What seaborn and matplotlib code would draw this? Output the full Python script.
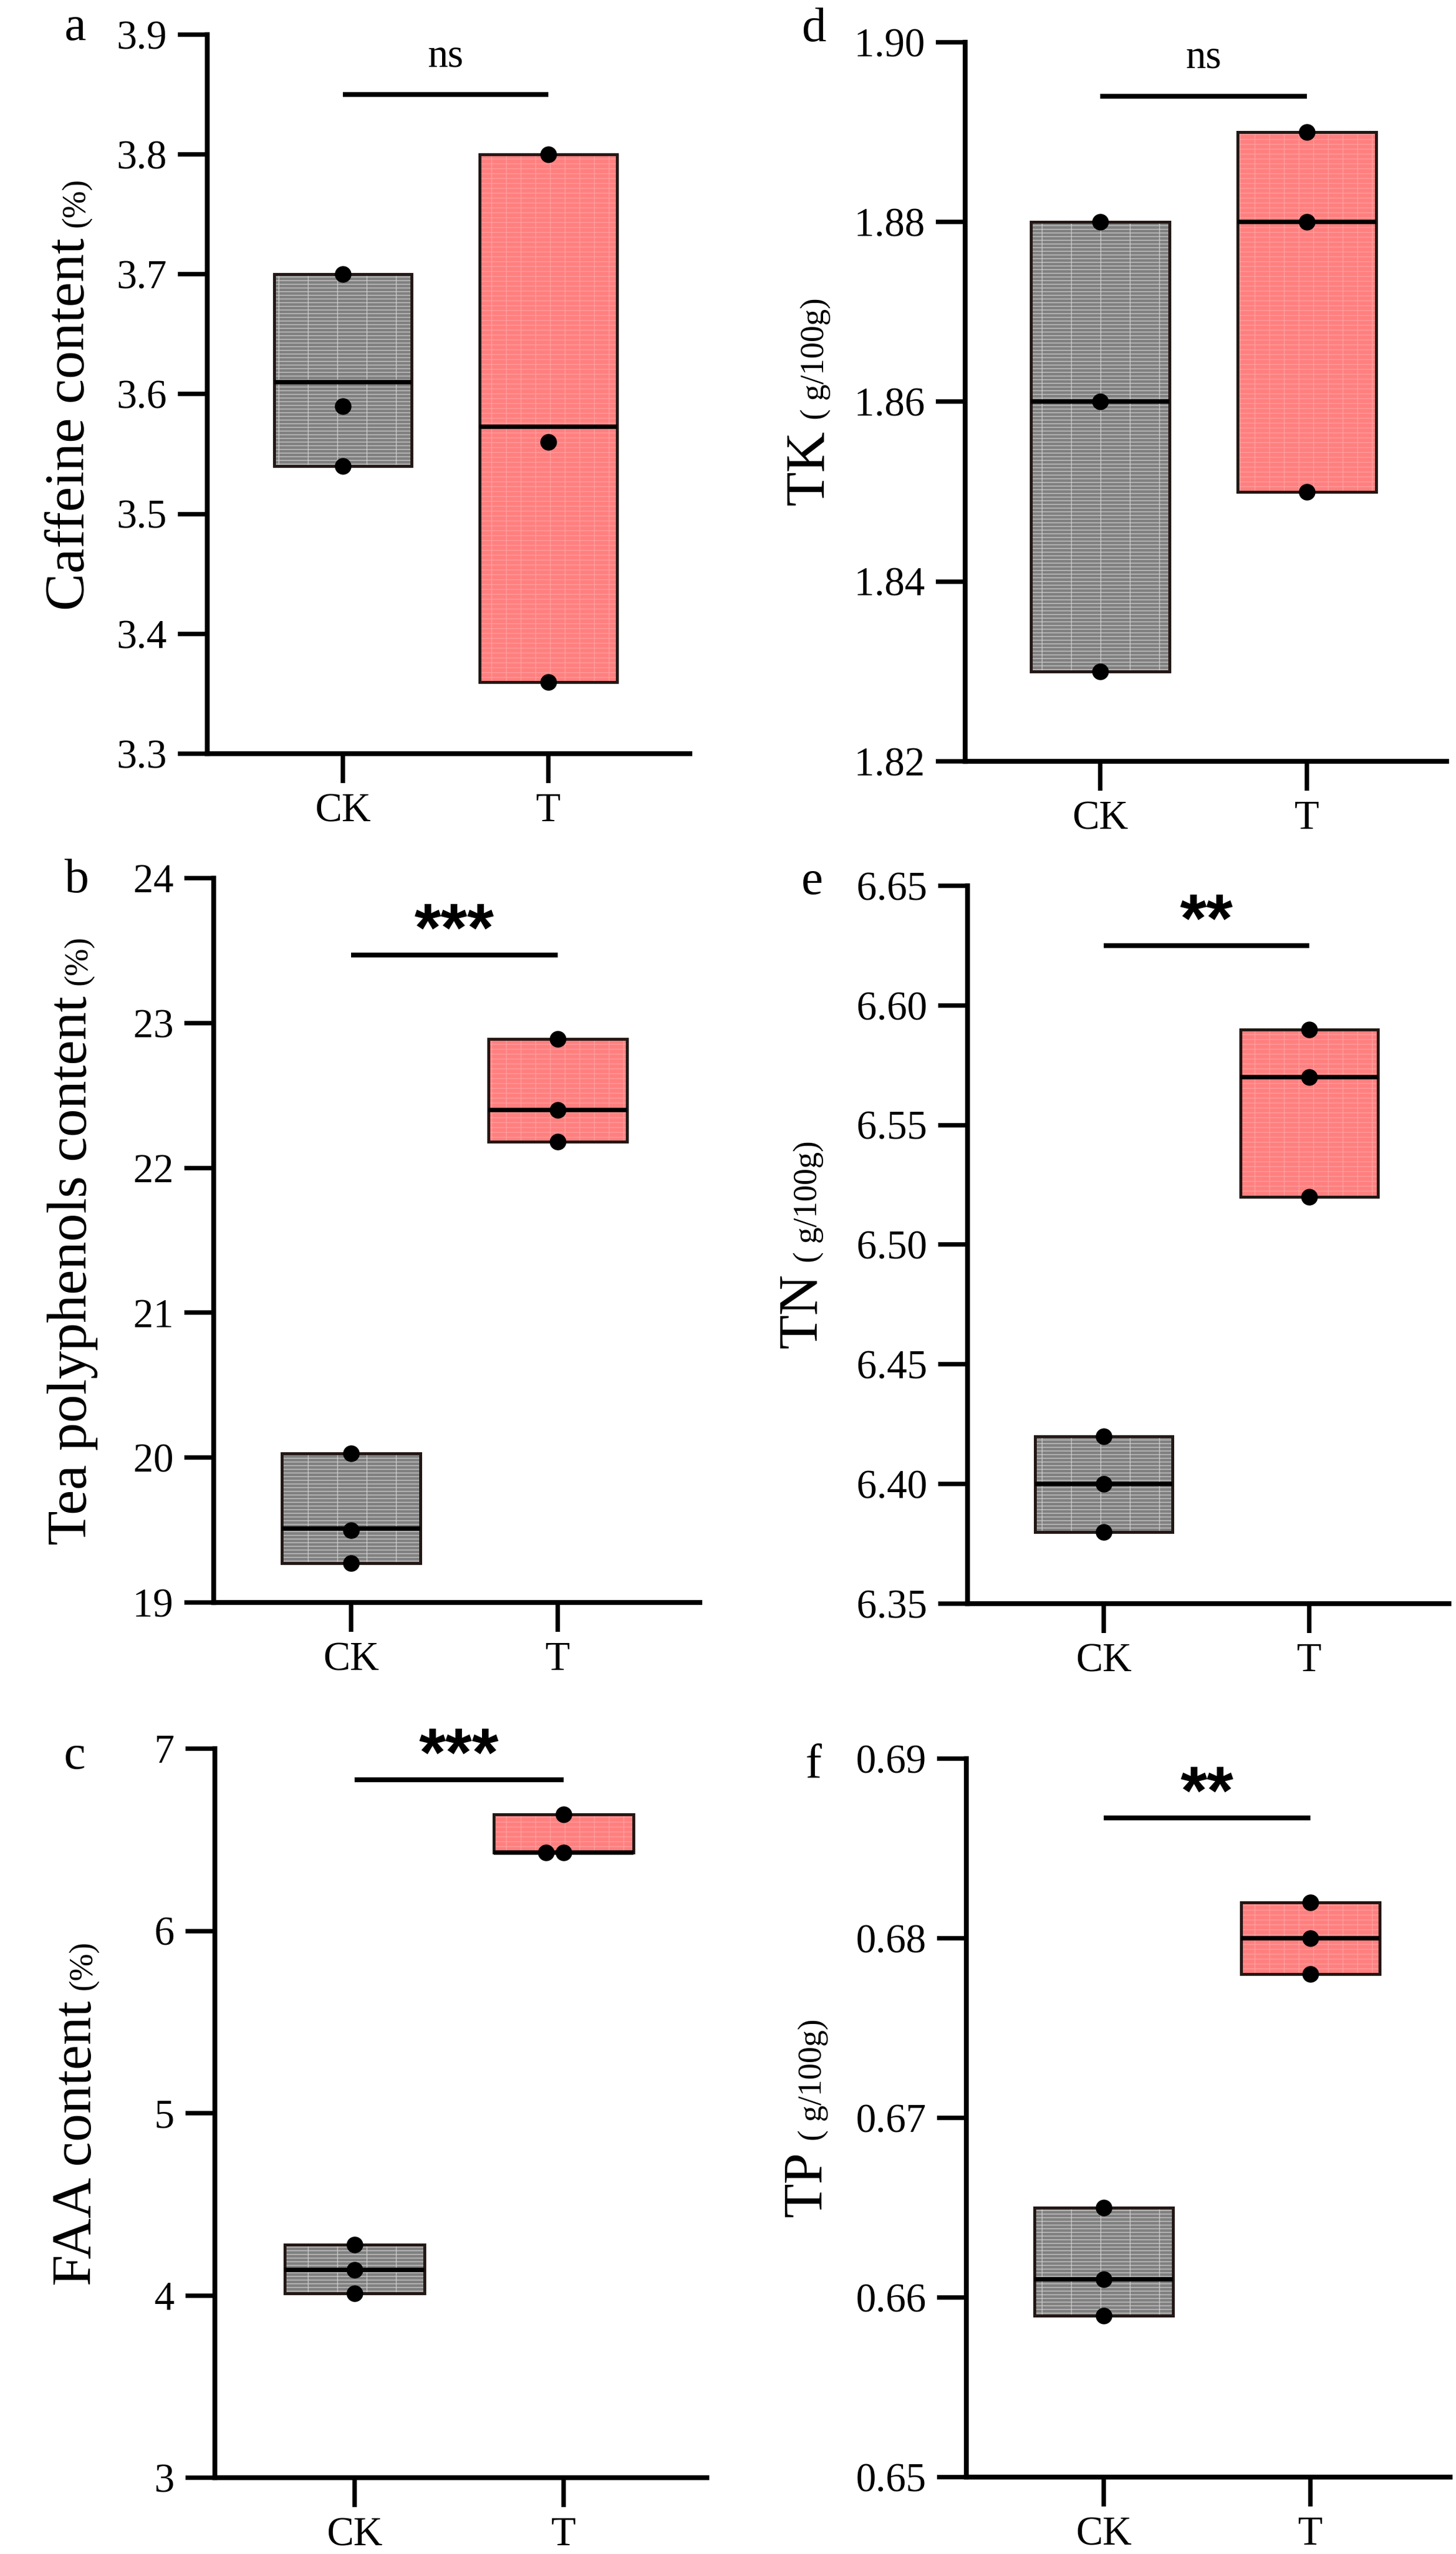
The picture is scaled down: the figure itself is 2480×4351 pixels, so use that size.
import numpy as np
import pandas as pd
import matplotlib
matplotlib.use('Agg')
import matplotlib.pyplot as plt
import seaborn as sns

# Data (three replicates per group)
groups = ['CK', 'T']

caffeine_ck = [3.70, 3.59, 3.54]
caffeine_t = [3.80, 3.56, 3.36]
caffeine_mid = [3.61, 3.573]

polyphenol_ck = [20.03, 19.50, 19.27]
polyphenol_t = [22.89, 22.40, 22.18]
polyphenol_mid = [19.51, 22.40]

faa_ck = [4.28, 4.14, 4.01]
faa_t = [6.64, 6.43, 6.43]
faa_mid = [4.14, 6.43]

tk_ck = [1.88, 1.86, 1.83]
tk_t = [1.89, 1.88, 1.85]
tk_mid = [1.86, 1.88]

tn_ck = [6.42, 6.40, 6.38]
tn_t = [6.59, 6.57, 6.52]
tn_mid = [6.40, 6.57]

tp_ck = [0.665, 0.661, 0.659]
tp_t = [0.682, 0.680, 0.678]
tp_mid = [0.661, 0.680]

# significance bars
sig_labels = ['ns', '***', '***', 'ns', '**', '**']
sig_levels = [3.85, 23.47, 6.83, 1.894, 6.625, 0.6867]

# axis labels and ticks
panel_letters = ['a', 'b', 'c', 'd', 'e', 'f']
ylab_main = ['Caffeine content', 'Tea polyphenols content', 'FAA content', 'TK', 'TN', 'TP']
ylab_unit = ['(%)', '(%)', '(%)', '( g/100g)', '( g/100g)', '( g/100g)']
yticks_a = [3.3, 3.4, 3.5, 3.6, 3.7, 3.8, 3.9]
yticks_b = [19, 20, 21, 22, 23, 24]
yticks_c = [3, 4, 5, 6, 7]
yticks_d = [1.82, 1.84, 1.86, 1.88, 1.90]
yticks_e = [6.35, 6.40, 6.45, 6.50, 6.55, 6.60, 6.65]
yticks_f = [0.65, 0.66, 0.67, 0.68, 0.69]
tick_fmt = ['{:.1f}', '{:.0f}', '{:.0f}', '{:.2f}', '{:.2f}', '{:.2f}']

panels = [
    (caffeine_ck, caffeine_t, caffeine_mid, yticks_a),
    (polyphenol_ck, polyphenol_t, polyphenol_mid, yticks_b),
    (faa_ck, faa_t, faa_mid, yticks_c),
    (tk_ck, tk_t, tk_mid, yticks_d),
    (tn_ck, tn_t, tn_mid, yticks_e),
    (tp_ck, tp_t, tp_mid, yticks_f),
]

# ---- layout (pixels of the 2480x4351 output) ----
W, H = 2480, 4351
DPI = 300
# left, right, top, bottom, CK x, T x
rects = [
    (353, 1175, 59, 1284, 584, 934),
    (364, 1192, 1496, 2730, 598, 950),
    (366, 1204, 2979, 4221, 604, 960),
    (1644, 2464, 72, 1297, 1874, 2226),
    (1648, 2468, 1509, 2732, 1880, 2230),
    (1646, 2470, 2996, 4220, 1880, 2232),
]
ylab_x = [143, 147, 155, 1403, 1391, 1399]
letter_pos = [(128, 68), (131, 1520), (127, 3013), (1387, 70), (1383, 1523), (1385, 3028)]

box_w = 0.67
gray_face = '#808080'
gray_hatch = '#c4c4c4'
red_face = '#ff7f7f'
red_hatch = '#ff9c9c'
edge_dark = '#231815'

sns.set_theme(style='ticks')
plt.rcParams['font.family'] = ['Liberation Serif', 'DejaVu Serif']
plt.rcParams['hatch.linewidth'] = 0.35
plt.rcParams['axes.unicode_minus'] = False
plt.rcParams['text.color'] = 'black'
plt.rcParams['axes.labelcolor'] = 'black'
plt.rcParams['xtick.color'] = 'black'
plt.rcParams['ytick.color'] = 'black'

fig = plt.figure(figsize=(W / DPI, H / DPI), dpi=DPI)
fig.patch.set_facecolor('white')

axes = []
for k, (ck, t, mid, yt) in enumerate(panels):
    L, R, T_, B, xck, xt = rects[k]
    ax = fig.add_axes([L / W, 1 - B / H, (R - L) / W, (B - T_) / H])
    ax.set_facecolor('none')
    axes.append(ax)

    df = pd.DataFrame({'group': ['CK'] * len(ck) + ['T'] * len(t),
                       'value': ck + t})
    rng = df.groupby('group')['value'].agg(['min', 'max']).reindex(groups)

    faces = [gray_face, red_face]
    hatch_cols = [gray_hatch, red_hatch]
    hatches = ['--------|', '------||']
    for i, g in enumerate(groups):
        lo, hi = rng.loc[g, 'min'], rng.loc[g, 'max']
        # filled, textured body
        sns.barplot(x=[g], y=[hi - lo], bottom=lo, order=groups, width=box_w,
                    color=faces[i], saturation=1, linewidth=0,
                    edgecolor=hatch_cols[i], hatch=hatches[i], errorbar=None, ax=ax)
        # dark outline
        sns.barplot(x=[g], y=[hi - lo], bottom=lo, order=groups, width=box_w,
                    color=edge_dark, fill=False, linewidth=1.2, saturation=1,
                    errorbar=None, ax=ax)

    # centre line of each box
    pos = np.arange(len(groups))
    ax.hlines(mid, pos - box_w / 2, pos + box_w / 2, color='black', lw=1.8, zorder=3)

    # replicate points
    sns.swarmplot(data=df, x='group', y='value', order=groups, color='black',
                  size=6.8, linewidth=0, ax=ax, zorder=4)

    # significance bar
    ax.plot([0, 1], [sig_levels[k]] * 2, color='black', lw=2.0,
            solid_capstyle='butt', clip_on=False)
    if sig_labels[k] == 'ns':
        ax.annotate('ns', xy=(0.5, sig_levels[k]), xytext=(0, 11.5),
                    textcoords='offset points', ha='center', va='baseline',
                    fontsize=16.5, color='black')
    else:
        ax.annotate(sig_labels[k], xy=(0.5, sig_levels[k]), xytext=(0, 1.5),
                    textcoords='offset points', ha='center', va='baseline',
                    fontsize=28, fontweight='bold', color='black',
                    family=['Liberation Sans', 'DejaVu Sans'])

    # axes styling
    ax.set_xlim((L - xck) / (xt - xck), (R - xck) / (xt - xck))
    ax.set_ylim(yt[0], yt[-1])
    ax.set_yticks(yt)
    ax.set_yticklabels([tick_fmt[k].format(v) for v in yt])
    ax.set_xticks(pos)
    ax.set_xticklabels(groups)
    ax.set_xlabel('')
    ax.set_ylabel('')
    for s in ['top', 'right']:
        ax.spines[s].set_visible(False)
    for s in ['left', 'bottom']:
        ax.spines[s].set_linewidth(2.0)
        ax.spines[s].set_color('black')
    ax.tick_params(axis='both', direction='out', length=12, width=1.8,
                   color='black', labelsize=16.5, labelcolor='black')
    ax.tick_params(axis='y', pad=4.5)
    ax.tick_params(axis='x', pad=4)
    ax.grid(False)
    if ax.get_legend() is not None:
        ax.get_legend().remove()

    # panel letter
    lx, ly = letter_pos[k]
    fig.text(lx / W, 1 - ly / H, panel_letters[k], ha='center', va='baseline',
             fontsize=20, color='black')

# y labels: large name plus small unit, centred on each axis
fig.canvas.draw()
label_pairs = []
for k in range(6):
    L, R, T_, B, xck, xt = rects[k]
    x = ylab_x[k] / W
    t1 = fig.text(x, 0.5, ylab_main[k], rotation=90, rotation_mode='anchor',
                  ha='left', va='baseline', fontsize=23, color='black')
    t2 = fig.text(x, 0.5, ylab_unit[k], rotation=90, rotation_mode='anchor',
                  ha='left', va='baseline', fontsize=13.5, color='black')
    label_pairs.append((t1, t2, (T_ + B) / 2))
fig.canvas.draw()
for t1, t2, yc_px in label_pairs:
    h1 = t1.get_window_extent().height
    h2 = t2.get_window_extent().height
    gap = 18
    total = h1 + gap + h2
    y0 = (H - yc_px) - total / 2
    t1.set_y(y0 / H)
    t2.set_y((y0 + h1 + gap) / H)

fig.savefig('out.png', dpi=DPI, facecolor='white')
